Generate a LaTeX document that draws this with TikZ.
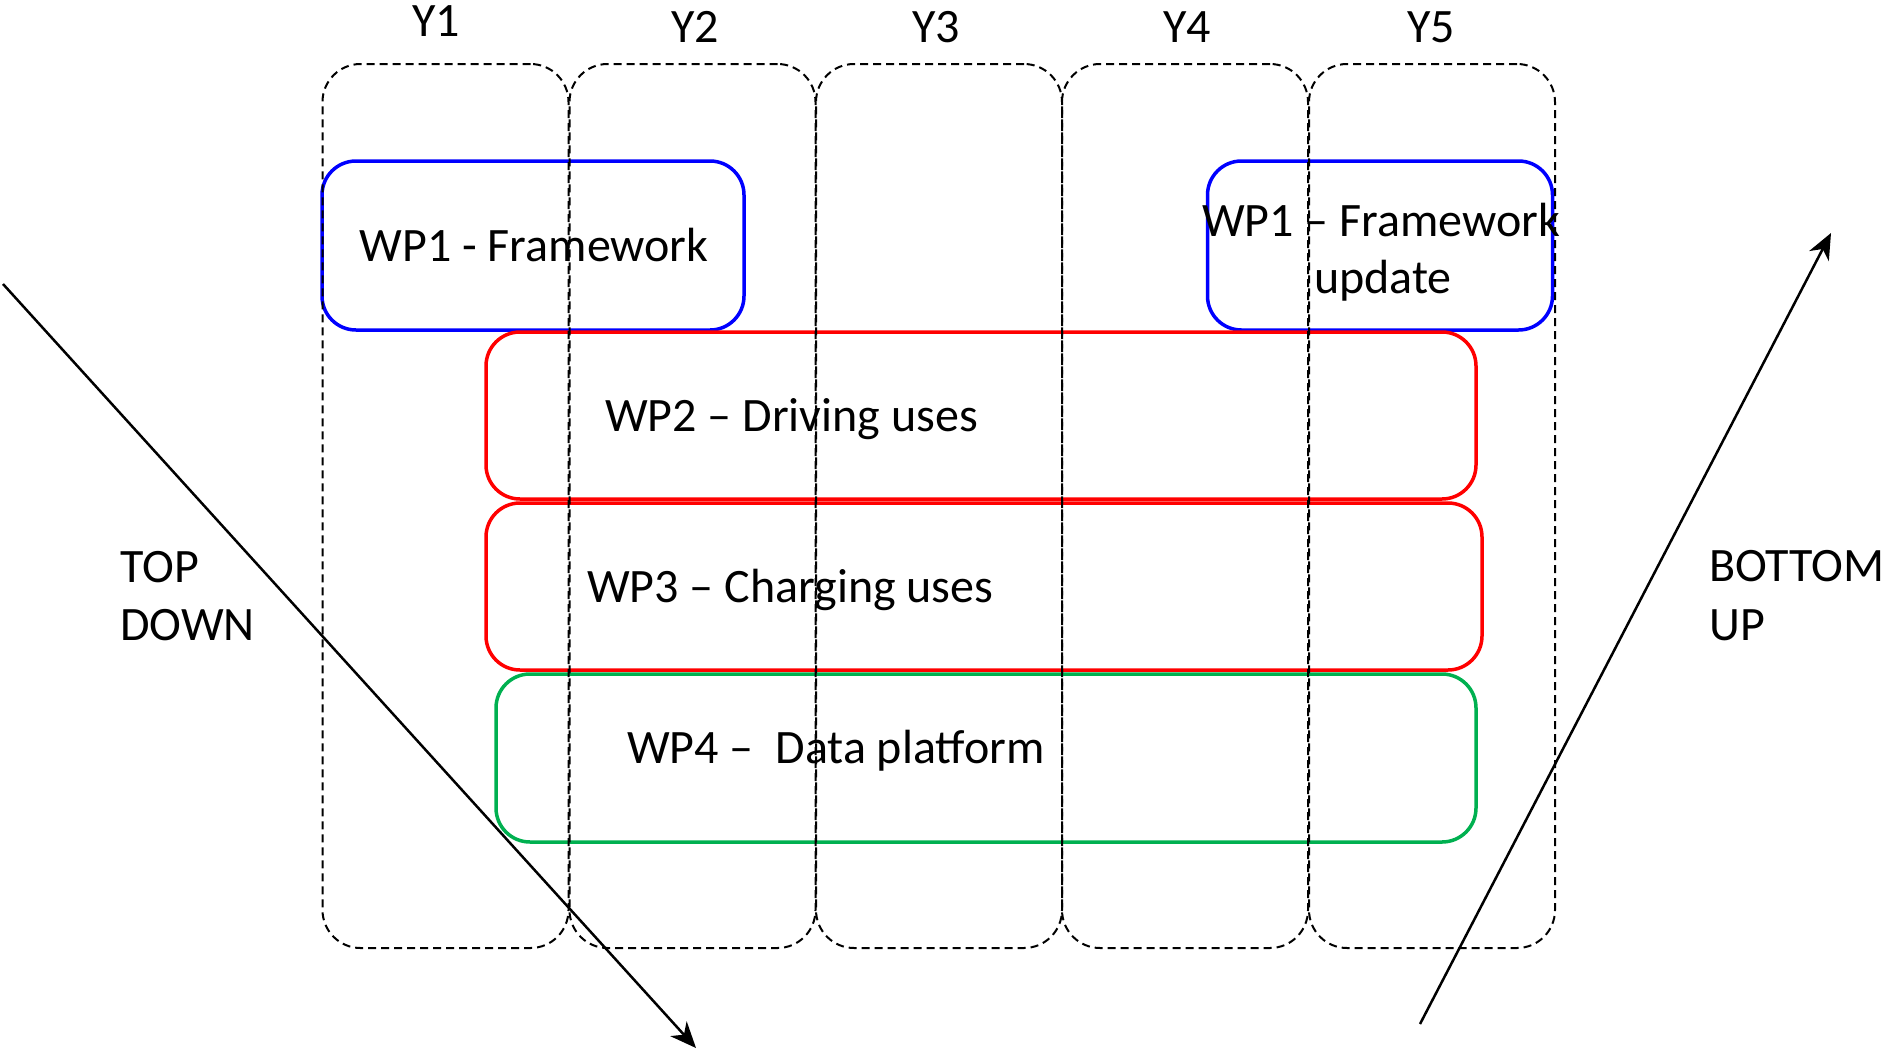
\documentclass[tikz,border=0pt]{standalone}
\usepackage{fontspec}
\setmainfont{Carlito}
\usetikzlibrary{arrows.meta}
\definecolor{wpblue}{RGB}{0,0,255}
\definecolor{wpred}{RGB}{255,0,0}
\definecolor{wpgreen}{RGB}{0,176,80}
\begin{document}
\begin{tikzpicture}[x=1pt,y=-1pt,
  every node/.style={font=\fontsize{48}{58}\selectfont},
  wpbox/.style={draw, rectangle, rounded corners=34pt, line width=3.5pt, inner sep=0pt, outer sep=0pt},
  yearcol/.style={draw, rectangle, dashed, dash pattern=on 8pt off 5pt, rounded corners=38pt, line width=2pt, minimum width=246pt, minimum height=884pt, inner sep=0pt},
  lbl/.style={anchor=base, inner sep=0pt},
  lblw/.style={anchor=base west, inner sep=0pt},
  bigarrow/.style={line width=2.5pt, -{Stealth[length=26pt,width=22pt,inset=8pt]}}
]
\useasboundingbox (0,0) rectangle (1882,1052);

% work package boxes
\node[wpbox, draw=wpblue, minimum width=422pt, minimum height=169pt] (wp1a) at (533,245.5) {};
\node[wpbox, draw=wpblue, minimum width=345pt, minimum height=169pt] (wp1b) at (1380,245.5) {};
\node[wpbox, draw=wpred, minimum width=990pt, minimum height=167pt] (wp2) at (981,415.5) {};
\node[wpbox, draw=wpred, minimum width=996pt, minimum height=167pt] (wp3) at (984,586.5) {};
\node[wpbox, draw=wpgreen, minimum width=980pt, minimum height=168pt] (wp4) at (986,758) {};

% texts
\node[lbl] (t1a) at (534,261) {WP1 - Framework};
\node[lbl] (t1b) at (1381,236) {WP1 – Framework};
\node[lbl] (t1c) at (1383,293) {update};
\node[lblw] (t2) at (605,431) {WP2 – Driving uses};
\node[lblw] (t3) at (587,602) {WP3 – Charging uses};
\node[lblw] (t4) at (627,763) {WP4 –\ \ Data platform};

% year columns
\node[yearcol] (c1) at (445.5,506) {};
\node[yearcol] (c2) at (692.5,506) {};
\node[yearcol] (c3) at (939,506) {};
\node[yearcol] (c4) at (1185,506) {};
\node[yearcol] (c5) at (1432,506) {};

\node[lbl] (y1) at (436,36) {Y1};
\node[lbl] (y2) at (695,42) {Y2};
\node[lbl] (y3) at (936,42) {Y3};
\node[lbl] (y4) at (1187,42) {Y4};
\node[lbl] (y5) at (1431,42) {Y5};

% side labels
\node[lblw] (td1) at (120,582) {TOP};
\node[lblw] (td2) at (120,640) {DOWN};
\node[lblw] (bu1) at (1709,581) {BOTTOM};
\node[lblw] (bu2) at (1709,640) {UP};

% arrows
\coordinate (tdS) at (3,284);
\coordinate (tdE) at (696,1048);
\coordinate (buS) at (1420,1024);
\coordinate (buE) at (1831,233);
\draw[bigarrow] (tdS) -- (tdE);
\draw[bigarrow] (buS) -- (buE);
\end{tikzpicture}
\end{document}
